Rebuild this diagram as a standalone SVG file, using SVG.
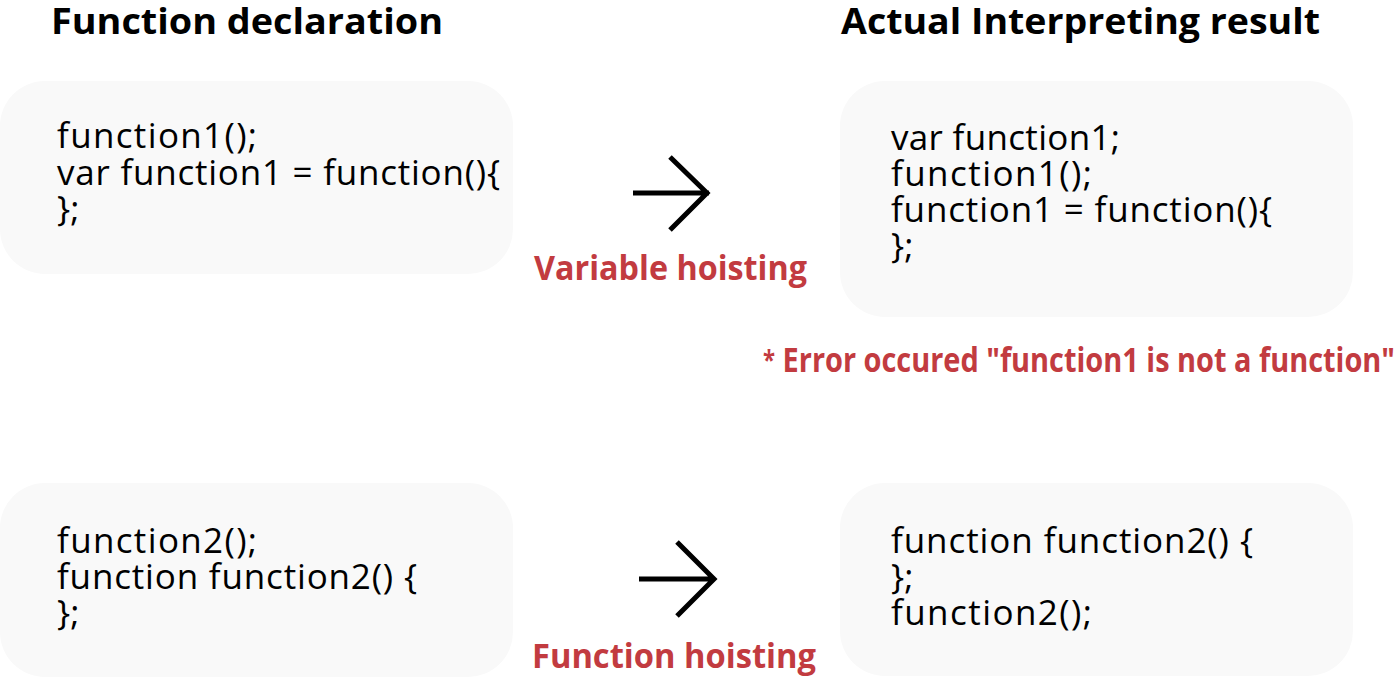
<svg xmlns="http://www.w3.org/2000/svg" width="1400" height="678" viewBox="0 0 1400 678">
<style>
.box{fill:#f9f9f9}
.code{font-family:"Open Sans","Liberation Sans",sans-serif;font-size:35px;fill:#000}
.head{font-family:"Open Sans","Liberation Sans",sans-serif;font-size:36px;font-weight:bold;fill:#000}
.lbl{font-family:"Open Sans","Liberation Sans",sans-serif;font-size:34px;font-weight:bold;fill:#c23b40}
.arr{fill:none;stroke:#000;stroke-width:5}
</style>
<rect width="1400" height="678" fill="#fff"/>
<g id="headings">
<text class="head" x="51" y="34" textLength="392" lengthAdjust="spacingAndGlyphs">Function declaration</text>
<text class="head" x="841" y="34" textLength="479" lengthAdjust="spacingAndGlyphs">Actual Interpreting result</text>
</g>
<g id="node-decl1">
<rect class="box" x="0" y="81" width="513" height="193" rx="45"/>
<text class="code" x="57" y="148" textLength="200">function1();</text>
<text class="code" x="57" y="185" textLength="443">var function1 = function(){</text>
<text class="code" x="57" y="221">};</text>
</g>
<g id="node-result1">
<rect class="box" x="840" y="81" width="513" height="236" rx="45"/>
<text class="code" x="891" y="150" textLength="229">var function1;</text>
<text class="code" x="891" y="186" textLength="201">function1();</text>
<text class="code" x="891" y="222" textLength="381">function1 = function(){</text>
<text class="code" x="891" y="258">};</text>
</g>
<g id="node-decl2">
<rect class="box" x="0" y="483" width="513" height="194" rx="45"/>
<text class="code" x="57" y="553" textLength="200">function2();</text>
<text class="code" x="57" y="589" textLength="360">function function2() {</text>
<text class="code" x="57" y="625">};</text>
</g>
<g id="node-result2">
<rect class="box" x="840" y="483" width="513" height="193" rx="45"/>
<text class="code" x="891" y="553" textLength="362">function function2() {</text>
<text class="code" x="891" y="589">};</text>
<text class="code" x="891" y="625" textLength="201">function2();</text>
</g>
<g id="connectors">
<path class="arr" d="M633 193 H709 M670 157 L707 193 L670 230"/>
<path class="arr" d="M639 579 H715 M677 542 L714 579 L677 616"/>
</g>
<g id="labels">
<text class="lbl" x="534" y="280" textLength="273" lengthAdjust="spacingAndGlyphs">Variable hoisting</text>
<text class="lbl" x="532" y="668" textLength="284" lengthAdjust="spacingAndGlyphs">Function hoisting</text>
<text class="lbl" x="763" y="372" textLength="632" lengthAdjust="spacingAndGlyphs"><tspan font-size="26" dy="-2">*</tspan><tspan dy="2"> Error occured "function1 is not a function"</tspan></text>
</g>
</svg>
